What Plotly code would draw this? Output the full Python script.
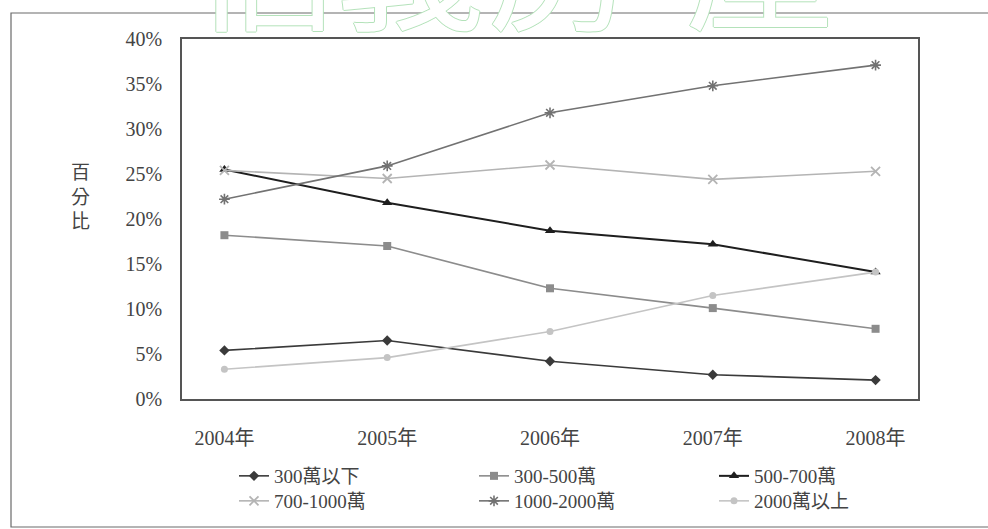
import plotly.graph_objects as go

# Survey years and share of transactions (%) by price band
years = ["2004年", "2005年", "2006年", "2007年", "2008年"]

band_names = ["300萬以下", "300-500萬", "500-700萬", "700-1000萬", "1000-2000萬", "2000萬以上"]
under_300 = [5.4, 6.5, 4.2, 2.7, 2.1]
b300_500 = [18.2, 17.0, 12.3, 10.1, 7.8]
b500_700 = [25.5, 21.8, 18.7, 17.2, 14.1]
b700_1000 = [25.4, 24.5, 26.0, 24.4, 25.3]
b1000_2000 = [22.2, 25.9, 31.8, 34.8, 37.1]
over_2000 = [3.3, 4.6, 7.5, 11.5, 14.1]

y_ticks = [0, 5, 10, 15, 20, 25, 30, 35, 40]
y_tick_text = [f"{v}%" for v in y_ticks]

W, H = 988, 529
ML, MR, MT, MB = 182, 70, 39, 130
PW, PH = W - ML - MR, H - MT - MB


def px_x(x):
    return (x - ML) / PW


def px_y(y):
    return (H - MB - y) / PH


FONT = "Liberation Serif, 'Noto Sans CJK TC', serif"
TXT = "#444444"

series = [
    (band_names[0], under_300, "#3a3a3a", 1.6, dict(symbol="diamond", size=8), "legend"),
    (band_names[1], b300_500, "#8c8c8c", 1.6, dict(symbol="square", size=8), "legend"),
    (band_names[2], b500_700, "#1e1e1e", 2.0, dict(symbol="triangle-up", size=9), "legend"),
    (band_names[3], b700_1000, "#b4b4b4", 1.6,
     dict(symbol="x-thin", size=9, line=dict(width=1.8, color="#b4b4b4")), "legend2"),
    (band_names[4], b1000_2000, "#727272", 1.6,
     dict(symbol="asterisk", size=9, line=dict(width=1.6, color="#727272")), "legend2"),
    (band_names[5], over_2000, "#c4c4c4", 1.6, dict(symbol="circle", size=7), "legend2"),
]

fig = go.Figure()
for name, vals, color, lw, marker, leg in series:
    fig.add_trace(go.Scatter(
        x=years, y=vals, name=name, mode="lines+markers",
        line=dict(color=color, width=lw),
        marker=dict(color=color, **marker),
        legend=leg,
    ))

legend_common = dict(
    orientation="h", xanchor="left", yanchor="middle",
    xref="container", yref="container",
    entrywidth=195, entrywidthmode="pixels",
    font=dict(family=FONT, size=19, color=TXT),
    bgcolor="rgba(0,0,0,0)", itemwidth=30,
    traceorder="normal",
)

# Faint outlined watermark lettering along the top edge
wm_chars = ["信", "義", "房", "屋"]
wm_x = [266, 410, 562, 760]
annotations = []
for ch, cx in zip(wm_chars, wm_x):
    annotations.append(dict(
        text=ch, x=px_x(cx), y=px_y(-47), xref="paper", yref="paper",
        xanchor="center", yanchor="middle", showarrow=False,
        font=dict(family="'Noto Sans CJK TC'", size=150, color="white",
                  shadow="1px 0 #b4e2ba, -1px 0 #b4e2ba, 0 1px #b4e2ba, 0 -1px #b4e2ba"),
    ))

# Vertical axis caption, one character per line
annotations.append(dict(
    text="百<br>分<br>比", x=px_x(80), y=px_y(197), xref="paper", yref="paper",
    xanchor="center", yanchor="middle", showarrow=False,
    font=dict(family=FONT, size=19, color=TXT),
))

fig.update_layout(
    width=W, height=H,
    margin=dict(l=ML, r=MR, t=MT, b=MB, autoexpand=False),
    paper_bgcolor="white", plot_bgcolor="white",
    font=dict(family=FONT, size=20, color=TXT),
    showlegend=True,
    legend=dict(x=234 / W, y=1 - 476 / H, **legend_common),
    legend2=dict(x=234 / W, y=1 - 501 / H, **legend_common),
    annotations=annotations,
    shapes=[dict(
        type="rect", xref="paper", yref="paper",
        x0=px_x(11), x1=px_x(1000), y0=px_y(527), y1=px_y(13),
        line=dict(color="#6a6a6a", width=1.2), layer="below",
    )],
    xaxis=dict(
        type="category", showgrid=False, zeroline=False,
        showline=True, mirror=True, linecolor="#555555", linewidth=1.5,
        ticks="", ticklabelstandoff=20,
        tickfont=dict(family=FONT, size=20, color=TXT),
    ),
    yaxis=dict(
        range=[0, 40], tickvals=y_ticks, ticktext=y_tick_text,
        showgrid=False, zeroline=False,
        showline=True, mirror=True, linecolor="#555555", linewidth=1.5,
        ticks="", ticklabelstandoff=14,
        tickfont=dict(family=FONT, size=20, color=TXT),
    ),
)

fig.write_html("out.html")
